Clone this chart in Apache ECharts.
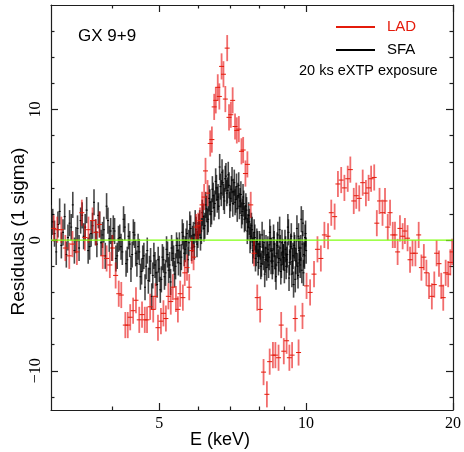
<!DOCTYPE html>
<html><head><meta charset="utf-8">
<script src="https://cdn.jsdelivr.net/npm/echarts@6/dist/echarts.min.js"></script>
<style>html,body{margin:0;padding:0;background:#fff}#c{width:464px;height:452px}</style>
</head><body><div id="c"></div>
<script>
// ---- data (energies in keV, residuals in units of sigma) ----
const ladE = [3.04,3.09,3.15,3.21,3.27,3.32,3.39,3.47,3.52,3.58,3.65,3.71,3.77,3.83,3.90,3.96,4.01,4.07,4.13,4.18,
  4.26,4.31,4.36,4.42,4.48,4.55,4.61,4.67,4.72,4.79,4.86,4.91,4.97,5.04,5.10,5.16,5.22,5.28,5.33,5.41,
  5.46,5.52,5.59,5.64,5.70,5.76,5.83,5.88,5.95,6.01,6.06,6.12,6.18,6.22,6.28,6.36,6.41,6.48,6.53,6.59,
  6.64,6.71,6.77,6.83,6.89,6.95,7.01,7.07,7.15,7.21,7.28,7.37,7.43,7.51,7.58,7.70,7.82,7.94,8.05,8.18,
  8.31,8.42,8.55,8.65,8.78,8.89,9.00,9.12,9.24,9.36,9.50,9.65,9.83,10.02,10.19,10.38,10.55,10.72,10.90,11.09,
  11.26,11.44,11.62,11.80,11.98,12.17,12.32,12.52,12.67,12.85,13.06,13.26,13.43,13.59,13.79,13.96,14.14,14.34,14.51,14.70,
  14.86,15.05,15.21,15.40,15.57,15.77,15.94,16.14,16.33,16.52,16.75,17.01,17.23,17.43,17.64,17.86,18.10,18.31,18.51,18.72,
  18.92,19.10,19.32,19.55,19.75,19.92];
const ladRes = [0.9,0.8,0.8,-0.6,-1.2,-0.3,-0.9,2.1,0.2,0.8,1.5,0.6,1.2,-1.2,-1.4,-1.9,-0.6,-2.7,-4.1,-4.2,
  -6.5,-6.5,-5.9,-5.4,-4.6,-6.1,-5.7,-6.1,-6.1,-5.1,-5.3,-4.3,-6.7,-6.2,-5.6,-6.0,-4.3,-4.7,-3.6,-4.5,
  -5.3,-4.1,-4.4,-2.5,-2.1,-3.6,-0.8,-1.3,1.0,1.1,1.5,2.7,3.3,5.3,3.6,7.4,7.7,10.2,10.7,11.7,
  11.0,13.3,12.7,10.8,14.7,9.4,9.6,10.7,8.7,8.4,8.5,6.8,6.9,5.1,5.8,2.7,-1.0,-4.4,-5.3,-10.1,
  -11.8,-9.3,-8.8,-8.8,-9.0,-6.5,-8.5,-7.7,-9.0,-8.8,-6.0,-8.6,-5.8,-3.5,-4.0,-2.6,-0.7,-1.4,0.4,0.3,
  2.1,1.8,4.3,4.6,4.0,4.7,5.4,3.0,3.4,3.2,4.4,3.6,4.0,4.7,4.8,1.3,3.0,2.1,3.0,1.0,
  2.1,0.4,0.4,-0.9,0.9,0.3,0.7,0.15,-1.5,-1.0,-1.0,0.4,-2.1,-1.3,-2.5,-3.5,-4.3,-3.4,-1.0,-1.8,
  -3.5,-4.4,-2.5,-2.6,-1.7,-0.9];

// SFA channels on the 0.05 keV grid
const sfaE = [3.00,3.05,3.10,3.15,3.20,3.25,3.30,3.35,3.40,3.45,3.50,3.55,3.60,3.65,3.70,3.75,3.80,3.85,3.90,3.95,
  4.00,4.05,4.10,4.15,4.20,4.25,4.30,4.35,4.40,4.45,4.50,4.55,4.60,4.65,4.70,4.75,4.80,4.85,4.90,4.95,
  5.00,5.05,5.10,5.15,5.20,5.25,5.30,5.35,5.40,5.45,5.50,5.55,5.60,5.65,5.70,5.75,5.80,5.85,5.90,5.95,
  6.00,6.05,6.10,6.15,6.20,6.25,6.30,6.35,6.40,6.45,6.50,6.55,6.60,6.65,6.70,6.75,6.80,6.85,6.90,6.95,
  7.00,7.05,7.10,7.15,7.20,7.25,7.30,7.35,7.40,7.45,7.50,7.55,7.60,7.65,7.70,7.75,7.80,7.85,7.90,7.95,
  8.00,8.05,8.10,8.15,8.20,8.25,8.30,8.35,8.40,8.45,8.50,8.55,8.60,8.65,8.70,8.75,8.80,8.85,8.90,8.95,
  9.00,9.05,9.10,9.15,9.20,9.25,9.30,9.35,9.40,9.45,9.50,9.55,9.60,9.65,9.70,9.75,9.80,9.85,9.90,9.95,10.00];
const sfaRes = [3.7,0.5,1.2,-0.4,1.8,0.2,1.0,-0.8,0.9,1.5,
  0.3,2.3,-0.5,1.1,0.6,1.9,-0.2,0.8,2.6,0.1,
  -0.6,0.7,-1.2,0.2,-0.9,1.0,-1.5,-0.3,-1.1,0.4,
  -1.8,-0.9,-2.4,-1.2,-2.0,-3.1,-1.6,-2.7,-1.9,-3.4,
  -2.2,-3.0,-1.5,-2.5,-1.1,-1.9,-0.6,-1.4,-2.0,-0.8,
  -0.4,-1.3,0.3,-0.7,0.5,-0.2,0.9,0.1,-0.5,0.8,
  0.4,1.3,0.7,1.8,1.1,2.4,1.6,2.9,2.2,3.4,
  2.8,4.0,3.3,5.6,3.6,4.4,3.0,4.9,3.8,4.2,
  3.2,4.6,3.7,2.9,4.1,3.4,2.6,3.5,2.2,2.8,
  1.7,2.3,1.0,1.4,0.3,0.8,-0.4,0.2,-1.0,-0.3,
  -1.2,-0.5,-1.8,-0.9,-0.2,-1.5,-2.1,-0.7,-1.3,0.1,
  -0.8,-1.6,-0.3,-2.2,-1.0,0.4,-1.4,-0.6,-1.9,-0.9,
  -1.3,-0.2,-2.0,-1.1,0.6,-1.7,-0.5,-2.6,-1.2,-0.4,
  -3.0,-1.0,-2.0,0.3,-1.5,-0.6,-2.3,1.3,-1.1,0.2,-0.8];
// SFA channels in between (offset by 0.025 keV)
const sfaMidE = [3.025,3.075,3.125,3.175,3.225,3.275,3.325,3.375,3.425,3.475,
  3.525,3.575,3.625,3.675,3.725,3.775,3.825,3.875,3.925,3.975,
  4.025,4.075,4.125,4.175,4.225,4.275,4.325,4.375,4.425,4.475,
  4.525,4.575,4.625,4.675,4.725,4.775,4.825,4.875,4.925,4.975,
  5.025,5.075,5.125,5.175,5.225,5.275,5.325,5.375,5.425,5.475,
  5.525,5.575,5.625,5.675,5.725,5.775,5.825,5.875,5.925,5.975,
  6.025,6.075,6.125,6.175,6.225,6.275,6.325,6.375,6.425,6.475,
  6.525,6.575,6.625,6.675,6.725,6.775,6.825,6.875,6.925,6.975,
  7.025,7.075,7.125,7.175,7.225,7.275,7.325,7.375,7.425,7.475,
  7.525,7.575,7.625,7.675,7.725,7.775,7.825,7.875,7.925,7.975,
  8.025,8.075,8.125,8.175,8.225,8.275,8.325,8.375,8.425,8.475,
  8.525,8.575,8.625,8.675,8.725,8.775,8.825,8.875,8.925,8.975,
  9.025,9.075,9.125,9.175,9.225,9.275,9.325,9.375,9.425,9.475,
  9.525,9.575,9.625,9.675,9.725,9.775,9.825,9.875,9.925,9.975];
const sfaMidRes = [1.4,-0.9,2.2,0.6,-1.1,1.3,2.7,0.0,-0.6,1.9,
  1.0,-0.8,0.5,2.9,-0.3,1.2,0.4,-1.2,1.5,0.7,
  0.9,-1.4,0.1,-0.5,1.6,-1.8,0.3,-2.2,0.6,-1.0,
  -0.5,-2.8,-1.4,-3.6,-0.8,-2.2,-4.3,-1.2,-2.5,-1.5,
  -3.8,-1.3,-2.8,-0.7,-2.3,-3.2,-1.0,-2.6,-0.4,-1.7,
  -1.8,0.6,-1.0,-0.1,-1.5,1.2,-0.6,0.4,1.3,-0.3,
  1.0,0.2,2.1,0.9,2.7,1.4,3.2,2.0,3.9,2.5,
  4.5,3.1,2.6,4.1,5.2,3.3,4.7,3.6,5.0,2.7,
  3.9,2.8,4.4,3.1,2.4,4.2,3.0,1.9,3.3,1.6,
  2.6,0.7,1.9,0.0,1.1,-0.8,0.6,-1.4,-0.1,-1.7,
  -0.3,-2.0,0.4,-1.3,-2.6,-0.6,-1.1,-1.9,0.6,-1.6,
  -2.0,0.2,-1.2,-2.8,-0.4,-1.7,0.8,-2.4,-0.2,-1.3,
  -2.3,-0.7,-1.5,1.0,-2.9,-0.9,0.3,-1.6,-3.4,-0.6,
  -1.6,0.9,-2.7,-0.8,-1.9,1.6,-0.3,-2.5,-1.2,0.5];

const SIGMA = 1; // residuals are in units of 1 sigma
const modelE = [3, 20];
const modelRes = [0, 0];

const xMajorTicks = [5, 10, 20];
const xMinorTicks = [4, 6, 7, 8, 9];
const yMajorTicks = [-10, 0, 10];
const yMinorTicks = [-12, -8, -6, -4, -2, 2, 4, 6, 8, 12, 14, 16];

// ---- chart ----
const FRAME = '#1e1e1e';
const SERIF = 'Liberation Serif';
const SANS = 'Liberation Sans';
const X_MIN = 3, X_MAX = 20, Y_MIN = -13, Y_MAX = 18;

function xAx(pos, ticks, len, showLine, labels) {
  return {
    type: 'log', logBase: 10, min: X_MIN, max: X_MAX, position: pos, gridIndex: 0,
    axisLine: {show: showLine, onZero: false, lineStyle: {color: FRAME, width: 1.2}},
    axisTick: {show: true, inside: true, customValues: ticks, length: len, lineStyle: {color: FRAME, width: 1.2}},
    axisLabel: labels ? {show: true, customValues: labels, margin: 6, color: '#000', fontFamily: SERIF, fontSize: 16}
                      : {show: false},
    splitLine: {show: false}, minorTick: {show: false}, minorSplitLine: {show: false}
  };
}
function yAx(pos, ticks, len, showLine, labels) {
  return {
    type: 'value', min: Y_MIN, max: Y_MAX, position: pos, gridIndex: 0,
    axisLine: {show: showLine, onZero: false, lineStyle: {color: FRAME, width: 1.2}},
    axisTick: {show: true, inside: true, customValues: ticks, length: len, lineStyle: {color: FRAME, width: 1.2}},
    axisLabel: labels ? {show: true, customValues: labels, rotate: 90, margin: 7, color: '#000', fontFamily: SERIF, fontSize: 16,
                         formatter: v => (v < 0 ? '\u2212' + Math.abs(v) : String(v))}
                      : {show: false},
    splitLine: {show: false}, minorTick: {show: false}, minorSplitLine: {show: false}
  };
}

function errSeries(name, E, R, barColor, markColor, barW, halfW, z) {
  return {
    type: 'custom', name, z, clip: true, xAxisIndex: 0, yAxisIndex: 0,
    itemStyle: {color: markColor},
    encode: {x: 0, y: 1},
    data: E.map((e, i) => [e, R[i]]),
    renderItem(params, api) {
      const e = api.value(0), r = api.value(1);
      const c = api.coord([e, r]);
      const t = api.coord([e, r + SIGMA]);
      const b = api.coord([e, r - SIGMA]);
      return {type: 'group', children: [
        {type: 'line', shape: {x1: c[0], y1: t[1], x2: c[0], y2: b[1]}, style: {stroke: barColor, lineWidth: barW}},
        {type: 'line', shape: {x1: c[0] - halfW, y1: c[1], x2: c[0] + halfW, y2: c[1]}, style: {stroke: markColor, lineWidth: 1}}
      ]};
    }
  };
}

const sfaAllE = sfaE.concat(sfaMidE);
const sfaAllRes = sfaRes.concat(sfaMidRes);

const chart = echarts.init(document.getElementById('c'), null, {width: 464, height: 452});
chart.setOption({
  animation: false,
  backgroundColor: '#fff',
  grid: {left: 51, top: 5, right: 7, bottom: 42, containLabel: false},
  xAxis: [
    xAx('bottom', xMajorTicks, 7, true, xMajorTicks),
    xAx('bottom', xMinorTicks, 3.5, false, null),
    xAx('top', xMajorTicks, 7, true, null),
    xAx('top', xMinorTicks, 3.5, false, null)
  ],
  yAxis: [
    yAx('left', yMajorTicks, 7, true, yMajorTicks),
    yAx('left', yMinorTicks, 3.5, false, null),
    yAx('right', yMajorTicks, 7, true, null),
    yAx('right', yMinorTicks, 3.5, false, null)
  ],
  legend: {
    orient: 'vertical', left: 336, top: 19, padding: 0, itemWidth: 39, itemHeight: 2, itemGap: 7,
    icon: 'rect', selectedMode: false,
    textStyle: {fontSize: 15, fontFamily: SANS, lineHeight: 16, padding: [0, 0, 0, 7]},
    data: [{name: 'LAD', textStyle: {color: '#e41b0b'}}, {name: 'SFA', textStyle: {color: '#000'}}]
  },
  graphic: [
    {type: 'text', left: 78, top: 28, style: {text: 'GX 9+9', font: '17px "Liberation Sans"', fill: '#000'}},
    {type: 'text', left: 299, top: 63, style: {text: '20 ks eXTP exposure', font: '14.5px "Liberation Sans"', fill: '#000'}},
    {type: 'text', x: 220, y: 440, style: {text: 'E (keV)', font: '18px "Liberation Sans"', fill: '#000', align: 'center', verticalAlign: 'middle'}},
    {type: 'text', x: 19, y: 231.5, rotation: Math.PI / 2, style: {text: 'Residuals (1 sigma)', font: '19px "Liberation Sans"', fill: '#000', align: 'center', verticalAlign: 'middle'}}
  ],
  series: [
    errSeries('SFA', sfaAllE, sfaAllRes, 'rgba(0,0,0,0.72)', '#000', 1.6, 1, 3),
    errSeries('LAD', ladE, ladRes, 'rgba(232,10,10,0.6)', '#e41b0b', 1.8, 2.5, 4),
    {type: 'line', name: 'model', z: 6, xAxisIndex: 0, yAxisIndex: 0, symbol: 'none', silent: true,
     data: modelE.map((e, i) => [e, modelRes[i]]), lineStyle: {color: '#80ff10', width: 1.3}}
  ]
});
</script></body></html>
